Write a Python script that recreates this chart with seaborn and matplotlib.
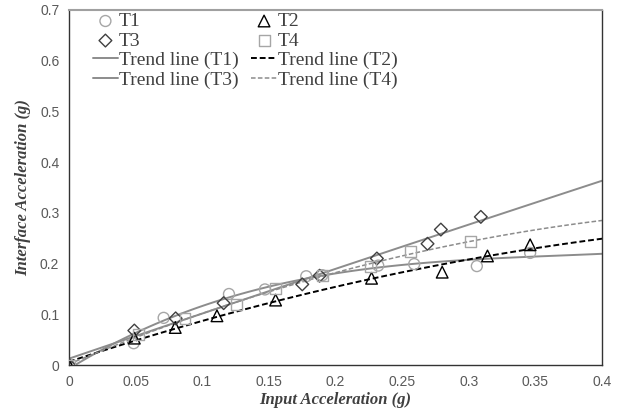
import numpy as np
import pandas as pd
import matplotlib.pyplot as plt
import seaborn as sns
from matplotlib.ticker import MultipleLocator, FuncFormatter

# данные
x_t1 = [0, 0.0485, 0.071, 0.12, 0.147, 0.178, 0.19, 0.232, 0.259, 0.306, 0.346]
y_t1 = [0, 0.043, 0.093, 0.14, 0.149, 0.175, 0.177, 0.196, 0.199, 0.195, 0.221]

x_t2 = [0, 0.049, 0.0797, 0.111, 0.155, 0.227, 0.28, 0.314, 0.346]
y_t2 = [0, 0.053, 0.074, 0.097, 0.128, 0.171, 0.183, 0.215, 0.237]

x_t3 = [0, 0.049, 0.08, 0.116, 0.175, 0.188, 0.231, 0.269, 0.279, 0.309]
y_t3 = [0, 0.068, 0.092, 0.122, 0.159, 0.176, 0.21, 0.239, 0.267, 0.292]

x_t4 = [0, 0.052, 0.087, 0.126, 0.155, 0.19, 0.226, 0.256, 0.301]
y_t4 = [0, 0.06, 0.091, 0.12, 0.15, 0.176, 0.195, 0.223, 0.243]

# степень полинома линии тренда
orders = {'T1': 3, 'T2': 2, 'T3': 2, 'T4': 2}

sns.set_style('white')
plt.rcParams['font.family'] = ['Liberation Serif', 'DejaVu Serif']

fig, ax = plt.subplots(figsize=(6.22, 4.12), dpi=100)
fig.subplots_adjust(left=0.111, right=0.968, top=0.976, bottom=0.114)

ax.set_xlim(0, 0.4)
ax.set_ylim(0, 0.7)

# точки
sns.scatterplot(x=x_t1, y=y_t1, ax=ax, marker='o', s=62, facecolor='none',
                edgecolor='#a6a6a6', linewidth=1.0, label='T1', zorder=3)
sns.scatterplot(x=x_t2, y=y_t2, ax=ax, marker='^', s=70, facecolor='none',
                edgecolor='#000000', linewidth=1.0, label='T2', zorder=3)
sns.scatterplot(x=x_t3, y=y_t3, ax=ax, marker='D', s=42, facecolor='none',
                edgecolor='#404040', linewidth=1.0, label='T3', zorder=3)
sns.scatterplot(x=x_t4, y=y_t4, ax=ax, marker='s', s=62, facecolor='none',
                edgecolor='#a6a6a6', linewidth=1.0, label='T4', zorder=3)

# линии тренда
sns.regplot(x=x_t1, y=y_t1, ax=ax, order=orders['T1'], ci=None, scatter=False, truncate=False,
            line_kws={'color': '#8c8c8c', 'lw': 1.4, 'ls': '-'}, label='Trend line (T1)')
sns.regplot(x=x_t2, y=y_t2, ax=ax, order=orders['T2'], ci=None, scatter=False, truncate=False,
            line_kws={'color': '#000000', 'lw': 1.4, 'ls': (0, (3, 1.5))}, label='Trend line (T2)')
sns.regplot(x=x_t3, y=y_t3, ax=ax, order=orders['T3'], ci=None, scatter=False, truncate=False,
            line_kws={'color': '#8c8c8c', 'lw': 1.4, 'ls': '-'}, label='Trend line (T3)')
sns.regplot(x=x_t4, y=y_t4, ax=ax, order=orders['T4'], ci=None, scatter=False, truncate=False,
            line_kws={'color': '#8c8c8c', 'lw': 1.1, 'ls': (0, (3, 1.5))}, label='Trend line (T4)')

ax.set_xlim(0, 0.4)
ax.set_ylim(0, 0.7)

ax.xaxis.set_major_locator(MultipleLocator(0.05))
ax.xaxis.set_minor_locator(MultipleLocator(0.01))
ax.yaxis.set_major_locator(MultipleLocator(0.1))
ax.yaxis.set_minor_locator(MultipleLocator(0.02))
fmt = FuncFormatter(lambda v, p: '%g' % round(v, 3))
ax.xaxis.set_major_formatter(fmt)
ax.yaxis.set_major_formatter(fmt)

ax.tick_params(which='both', direction='in', length=4, width=0.8, color='#333333',
               labelcolor='#595959', labelsize=10, pad=7)
for lab in ax.get_xticklabels() + ax.get_yticklabels():
    lab.set_family('Liberation Sans')

for side in ['left', 'bottom', 'right']:
    ax.spines[side].set_color('#333333')
    ax.spines[side].set_linewidth(1.0)
ax.spines['top'].set_color('#a0a0a0')
ax.spines['top'].set_linewidth(1.5)

ax.set_xlabel('Input Acceleration (g)', fontsize=12, fontweight='bold', style='italic',
              color='#404040', labelpad=2)
ax.set_ylabel('Interface Acceleration (g)', fontsize=12, fontweight='bold', style='italic',
              color='#404040', labelpad=6)

handles, labels = ax.get_legend_handles_labels()
h = dict(zip(labels, handles))
names = ['T1', 'T3', 'Trend line (T1)', 'Trend line (T3)',
         'T2', 'T4', 'Trend line (T2)', 'Trend line (T4)']
ax.legend([h[n] for n in names], names, ncol=2, loc='upper left', frameon=False,
          fontsize=14, labelspacing=0.1, handlelength=1.3, handletextpad=0.05,
          columnspacing=0.65, borderaxespad=0.3, bbox_to_anchor=(0.019, 1.031),
          labelcolor='#404040')

fig.savefig('out.png', dpi=100)
